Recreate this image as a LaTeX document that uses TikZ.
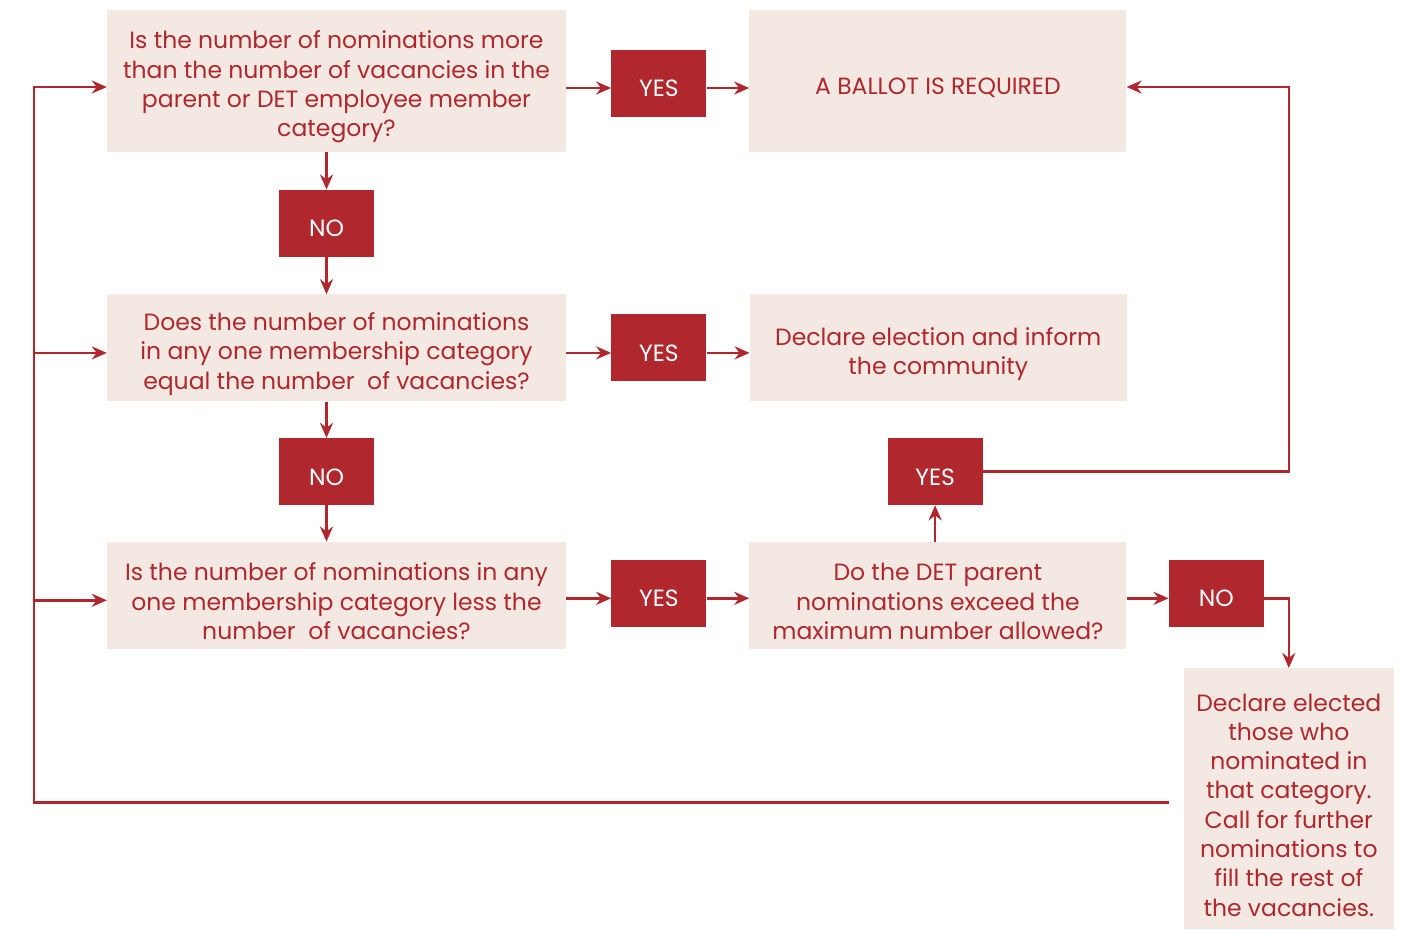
\documentclass[tikz,border=0pt]{standalone}
\usepackage{fontspec}
\setmainfont{Poppins}
\usetikzlibrary{calc}
\usetikzlibrary{positioning}
\usetikzlibrary{arrows.meta}
\definecolor{vicred}{RGB}{176,39,45}
\definecolor{vicsand}{RGB}{243,232,226}
\newcommand{\drop}{\rule{0pt}{30pt}}

\begin{document}
\begin{tikzpicture}[%
            x=1pt, y=-1pt,
            question/.style={%
              fill=vicsand,
              text=vicred,
              align=center,
              inner sep=0pt,
              minimum width=459pt,
              minimum height=107pt,
              font=\fontsize{23.5}{29.3}\selectfont,
            },
            outcome/.style={%
              question,
              minimum width=377pt,
            },
            answer/.style={%
              fill=vicred,
              text=white,
              inner sep=0pt,
              minimum width=95pt,
              minimum height=67pt,
              font=\fontsize{23.5}{29.3}\selectfont,
              execute at begin node={\rule{0pt}{27pt}},
            },
            link/.style={%
              vicred,
              line width=2.6pt,
              -{Stealth[length=15pt,width=13pt]},
            },
            low/.style={transform canvas={yshift=-5pt}},
          ]
            \useasboundingbox (0,0) rectangle (1405,929);

            % left column of questions
            \node [question, minimum height=142pt] (is more) at (336.5,81)
              {\drop Is the number of nominations more\\
               than the number of vacancies in the\\
               parent or DET employee member\\
               category?};
            \node [question, below=142pt of is more] (is equal)
              {\drop Does the number of nominations\\
               in any one membership category\\
               equal the number\ \ of vacancies?};
            \node [question, below=140pt of is equal] (is less)
              {\drop Is the number of nominations in any\\
               one membership category less the\\
               number\ \ of vacancies?};

            \node [answer, xshift=-10pt] (no more)
              at ($(is more.south)!0.5!(is equal.north)$) {NO};
            \node [answer, xshift=-10pt] (no equal)
              at ($(is equal.south)!0.5!(is less.north)$) {NO};

            % answers and outcomes on the right
            \node [answer, right=45pt of is more, yshift=-2pt] (yes more) {YES};
            \node [outcome, minimum height=142pt, right=183pt of is more] (ballot)
              {\drop A BALLOT IS REQUIRED};
            \node [answer, right=45pt of is equal] (yes equal) {YES};
            \node [outcome, right=43pt of yes equal] (declare)
              {\drop Declare election and inform\\the community};
            \node [answer, right=45pt of is less, yshift=2pt] (yes less) {YES};
            \node [outcome, right=183pt of is less] (det parent)
              {\drop Do the DET parent\\
               nominations exceed the\\
               maximum number allowed?};

            \node [answer, xshift=-3pt] (yes det)
              at ($(declare.south)!0.5!(det parent.north)$) {YES};
            \node [answer, right=42pt of det parent, yshift=2pt] (no det) {NO};
            \node [%
              question,
              minimum width=210pt,
              minimum height=261pt,
              below=41pt of no det,
              xshift=72.5pt,
            ] (elected)
              {\drop Declare elected\\
               those who\\
               nominated in\\
               that category.\\
               Call for further\\
               nominations to\\
               fill the rest of\\
               the vacancies.};

            % connectors
            \draw [link, low] (yes more -| is more.east) -- (yes more);
            \draw [link, low] (yes more) -- (yes more -| ballot.west);
            \draw [link, low] (is equal) -- (yes equal);
            \draw [link, low] (yes equal) -- (declare);
            \draw [link, low] (yes less -| is less.east) -- (yes less);
            \draw [link, low] (yes less) -- (yes less -| det parent.west);

            \draw [link] (is more.south -| no more) -- (no more);
            \draw [link] (no more) -- (is equal.north -| no more);
            \draw [link] (is equal.south -| no more) -- (no equal);
            \draw [link] (no equal) -- (is less.north -| no equal);

            \draw [link] (det parent.north -| yes det) -- (yes det);
            \coordinate (ballot in) at ([yshift=-6pt]ballot.east);
            \draw [link] (yes det.east) -| (elected.north |- ballot in) -- (ballot in);
            \draw [link, low] (no det -| det parent.east) -- (no det);
            \draw [link] ([yshift=-5pt]no det.east) -| (elected.north);

            % loop back to the first question
            \coordinate (rail) at ([xshift=-73pt,yshift=-6pt]is more.west);
            \draw [link] ([xshift=-15pt,yshift=-4pt]elected.west) -| (rail) -- (rail -| is more.west);
            \draw [link, low] (rail |- is equal.west) -- (is equal.west);
            \draw [link, low] (rail |- is less.west) -- (is less.west);
          \end{tikzpicture}
\end{document}
